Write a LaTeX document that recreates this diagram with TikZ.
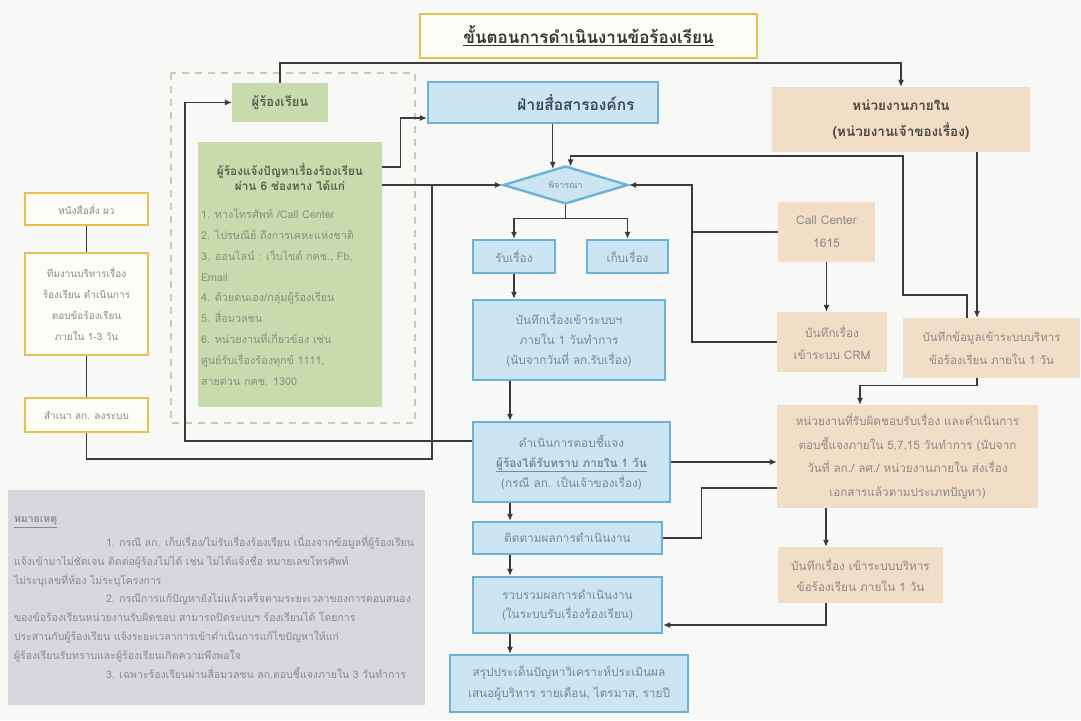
\documentclass[tikz,border=0pt]{standalone}
\usepackage{fontspec}
\setmainfont[Script=Thai]{Loma}
\usetikzlibrary{arrows.meta,calc,shapes.geometric}
\definecolor{bgc}{HTML}{F8F8F6}
\definecolor{linec}{HTML}{3A3A3A}
\definecolor{bluebd}{HTML}{6CB2D8}
\definecolor{bluefill}{HTML}{CCE5F2}
\definecolor{bluetxt}{HTML}{7A8794}
\definecolor{bluehd}{HTML}{3E4852}
\definecolor{beigefill}{HTML}{F0DEC7}
\definecolor{beigetxt}{HTML}{8E8A85}
\definecolor{beigehd}{HTML}{4A4640}
\definecolor{greenfill}{HTML}{C8DBAC}
\definecolor{greentxt}{HTML}{8A8F80}
\definecolor{greenhd}{HTML}{5B6150}
\definecolor{yelbd}{HTML}{E6C14F}
\definecolor{yelfill}{HTML}{FDFCF7}
\definecolor{yeltxt}{HTML}{8A8A8A}
\definecolor{notesfill}{HTML}{D9D6DE}
\definecolor{notestxt}{HTML}{8A8890}
\definecolor{dashc}{HTML}{CEC6B6}
\definecolor{titletxt}{HTML}{333333}
\begin{document}
\begin{tikzpicture}[x=1pt,y=-1pt,
  base/.style={inner sep=2pt, align=center, text=yeltxt, font=\fontsize{10}{21}\selectfont},
  bluebox/.style={base, draw=bluebd, line width=2.4pt, fill=bluefill, text=bluetxt, font=\fontsize{11.8}{20}\selectfont},
  beigebox/.style={base, fill=beigefill, text=beigetxt, font=\fontsize{11.8}{22}\selectfont},
  yelbox/.style={base, draw=yelbd, line width=2.6pt, fill=yelfill},
  greenbox/.style={base, fill=greenfill, text=greentxt},
  sz/.style 2 args={minimum width=#1, minimum height=#2},
  conn/.style={draw=linec, line width=1.1pt},
  arr/.style={conn, -{Latex[length=7pt,width=6pt]}},
]
\useasboundingbox[fill=bgc] (0,0) rectangle (1081,720);

% title
\node[yelbox, sz={337pt}{44pt}, font=\fontsize{17}{20}\selectfont\bfseries, text=titletxt] (title) at (588.5,36) {\underline{ขั้นตอนการดำเนินงานข้อร้องเรียน}};

% group of complainant
\draw[dashc, line width=1.6pt, dash pattern=on 7pt off 6pt] (171,73) rectangle (415,423);
\node[greenbox, sz={96pt}{39pt}, font=\fontsize{13}{16}\selectfont\bfseries, text=greenhd] (p1) at (280,102.5) {ผู้ร้องเรียน};
\node[greenbox, sz={184pt}{265pt}, text width=178pt, inner sep=3pt, align=none] (gl) at (290,274.5) {%
{\centering\fontsize{11.8}{15}\selectfont\bfseries\color{greenhd}ผู้ร้องแจ้งปัญหาเรื่องร้องเรียน\\ ผ่าน 6 ช่องทาง ได้แก่\par}%
\vspace{7pt}%
{\raggedright\fontsize{10.8}{20.8}\selectfont
1. ทางโทรศัพท์ /Call Center\\
2. ไปรษณีย์ ถึงการเคหะแห่งชาติ\\
3. ออนไลน์ : เว็บไซต์ กคช., Fb,\\
Email\\
4. ด้วยตนเอง/กลุ่มผู้ร้องเรียน\\
5. สื่อมวลชน\\
6. หน่วยงานที่เกี่ยวข้อง เช่น\\
ศูนย์รับเรื่องร้องทุกข์ 1111,\\
สายด่วน กคช. 1300\par}};

% left yellow boxes
\node[yelbox, sz={123pt}{32pt}] (y1) at (86.5,209) {หนังสือสั่ง ผว};
\node[yelbox, sz={123pt}{102pt}] (y2) at (86.5,304) {ทีมงานบริหารเรื่อง\\ร้องเรียน ดำเนินการ\\ตอบข้อร้องเรียน\\ภายใน 1-3 วัน};
\node[yelbox, sz={123pt}{34pt}] (y3) at (86.5,415) {สำเนา ลก. ลงระบบ};

% centre column
\node[bluebox, sz={230pt}{41pt}, font=\fontsize{15.5}{18}\selectfont\bfseries, text=bluehd] (fsa) at (543,102.5) {\hspace*{66pt}ฝ่ายสื่อสารองค์กร};
\node[bluebox, diamond, aspect=3.3, sz={125pt}{38pt}, inner sep=0pt, font=\fontsize{9}{11}\selectfont] (dia) at (565.5,185) {พิจารณา};
\node[bluebox, sz={82pt}{33pt}] (rub) at (514,256.5) {รับเรื่อง};
\node[bluebox, sz={81pt}{33pt}] (keb) at (627.5,256.5) {เก็บเรื่อง};
\node[bluebox, sz={192pt}{80pt}] (bt1) at (569,340) {บันทึกเรื่องเข้าระบบฯ\\ภายใน 1 วันทำการ\\(นับจากวันที่ ลก.รับเรื่อง)};
\node[bluebox, sz={197pt}{80pt}] (dn) at (571.5,462) {ดำเนินการตอบชี้แจง\\{\bfseries\underline{ผู้ร้องได้รับทราบ ภายใน 1 วัน}}\\(กรณี ลก. เป็นเจ้าของเรื่อง)};
\node[bluebox, sz={189pt}{32pt}] (tt) at (567.5,538) {ติดตามผลการดำเนินงาน};
\node[bluebox, sz={189pt}{56pt}, font=\fontsize{11.8}{19}\selectfont] (rv) at (567.5,605) {รวบรวมผลการดำเนินงาน\\(ในระบบรับเรื่องร้องเรียน)};
\node[bluebox, sz={238pt}{57pt}, font=\fontsize{11.8}{21}\selectfont] (sp) at (569,683.5) {สรุปประเด็นปัญหาวิเคราะห์ประเมินผล\\เสนอผู้บริหาร รายเดือน, ไตรมาส, รายปี};

% right column
\node[beigebox, sz={258pt}{65pt}, font=\fontsize{13.5}{26}\selectfont\bfseries, text=beigehd] (int) at (901,119.5) {หน่วยงานภายใน\\(หน่วยงานเจ้าของเรื่อง)};
\node[beigebox, sz={97pt}{60pt}, font=\fontsize{12}{23}\selectfont] (cc) at (826.5,232) {Call Center\\1615};
\node[beigebox, sz={110pt}{60pt}] (crm) at (832,342) {บันทึกเรื่อง\\เข้าระบบ CRM};
\node[beigebox, sz={177pt}{60pt}, font=\fontsize{11.5}{23}\selectfont] (bmis) at (991.5,348) {บันทึกข้อมูลเข้าระบบบริหาร\\ข้อร้องเรียน ภายใน 1 วัน};
\node[beigebox, sz={261pt}{103pt}, font=\fontsize{11.7}{23.5}\selectfont] (resp) at (907.5,456.5) {หน่วยงานที่รับผิดชอบรับเรื่อง และดำเนินการ\\ตอบชี้แจงภายใน 5,7,15 วันทำการ (นับจาก\\วันที่ ลก./ ลศ./ หน่วยงานภายใน ส่งเรื่อง\\เอกสารแล้วตามประเภทปัญหา)};
\node[beigebox, sz={165pt}{56pt}, font=\fontsize{11.8}{21}\selectfont] (bmis2) at (860.5,575) {บันทึกเรื่อง เข้าระบบบริหาร\\ข้อร้องเรียน ภายใน 1 วัน};

% notes
\node[base, fill=notesfill, text=notestxt, sz={417pt}{215pt}, text width=405pt, inner xsep=6pt, align=none, font=\fontsize{10.5}{18.8}\selectfont] (notes) at (216.5,597.5) {\raggedright
\mbox{\bfseries\underline{หมายเหตุ}}\\[5pt]
\hspace*{92pt}\mbox{1. กรณี ลก. เก็บเรื่อง/ไม่รับเรื่องร้องเรียน เนื่องจากข้อมูลที่ผู้ร้องเรียน}\\
\mbox{แจ้งเข้ามาไม่ชัดเจน ติดต่อผู้ร้องไม่ได้ เช่น ไม่ได้แจ้งชื่อ หมายเลขโทรศัพท์}\\
\mbox{ไม่ระบุเลขที่ห้อง ไม่ระบุโครงการ}\\
\hspace*{92pt}\mbox{2. กรณีการแก้ปัญหายังไม่แล้วเสร็จตามระยะเวลาของการตอบสนอง}\\
\mbox{ของข้อร้องเรียนหน่วยงานรับผิดชอบ สามารถปิดระบบฯ ร้องเรียนได้ โดยการ}\\
\mbox{ประสานกับผู้ร้องเรียน แจ้งระยะเวลาการเข้าดำเนินการแก้ไขปัญหาให้แก่}\\
\mbox{ผู้ร้องเรียนรับทราบและผู้ร้องเรียนเกิดความพึงพอใจ}\\
\hspace*{92pt}\mbox{3. เฉพาะร้องเรียนผ่านสื่อมวลชน ลก.ตอบชี้แจงภายใน 3 วันทำการ}\par};

% helper coordinates
\coordinate (topc) at (600,63);
\coordinate (lx) at (185,102.5);
\coordinate (jx) at (432,459);
\coordinate (colx) at (510,0);
\coordinate (r1) at (903,295);
\coordinate (r2) at (903,156);
\coordinate (r3) at (692,185);
\coordinate (dA) at ($(dia.west)!0.8!(dia.north)$);
\coordinate (dB) at ($(dia.north)!0.08!(dia.east)$);

% connectors
\draw[arr] (p1.north) |- (topc) -| (int.north);
\draw[arr] ([yshift=21pt]dn.west) -| (lx) -- (p1.west);
\draw[arr] (gl.east |- dia.west) -- (dia.west);
\draw[conn] (y3.south) |- (jx) -- (jx |- dia.west);
\draw[arr] ([yshift=107.5pt]gl.east) -- ++(18,0) |- ([yshift=-15.5pt]fsa.west);
\draw[conn] (y1) -- (y2);
\draw[conn] (y2) -- (y3);
\draw[arr] (fsa.south -| dA) -- (dA);
\draw[arr] (dia.south) -- ++(0,13) -| (rub.north);
\draw[arr] (dia.south) -- ++(0,13) -| (keb.north);
\draw[arr] (rub.south) -- (rub.south |- bt1.north);
\draw[arr] (bt1.south -| colx) -- (dn.north -| colx);
\draw[arr] (dn.south -| colx) -- (tt.north -| colx);
\draw[arr] (tt.south -| colx) -- (rv.north -| colx);
\draw[arr] (rv.south -| colx) -- (sp.north -| colx);
\draw[arr] ([xshift=-24.5pt]bmis.north) |- (r1) -- (r2) -| (dB);
\draw[arr] ([xshift=76pt]int.south) -- ([xshift=76pt]int.south |- bmis.north);
\draw[arr] (cc.west) -| (r3) -- (dia.east);
\draw[conn] (crm.west) -| (r3);
\draw[arr] (cc.south) -- (cc.south |- crm.north);
\draw[arr] ([xshift=-14.5pt]bmis.south) -- ++(0,7) -| ([xshift=-47.5pt]resp.north);
\draw[arr] (dn.east) -- (dn.east -| resp.west);
\draw[conn] (tt.east) -- ++(38,0) |- ([yshift=-31.5pt]resp.west);
\draw[arr] ([xshift=-81.5pt]resp.south) -- ([xshift=-81.5pt]resp.south |- bmis2.north);
\draw[arr] ([xshift=-34.5pt]bmis2.south) |- ([yshift=-20pt]rv.east);
\end{tikzpicture}
\end{document}
